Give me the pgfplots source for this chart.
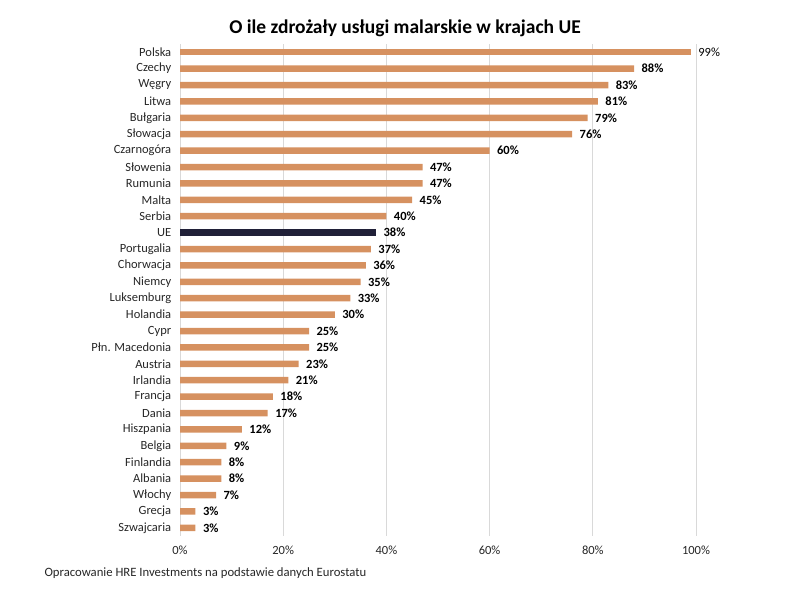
\documentclass[border=0pt]{standalone}
\usepackage{pgfplots}
\pgfplotsset{compat=1.18}
\usepackage{fontspec}
\setmainfont{Carlito}
\definecolor{barorange}{RGB}{214,145,96}
\definecolor{bardark}{RGB}{32,32,56}
\definecolor{gridgray}{RGB}{217,217,217}
\definecolor{txt}{RGB}{38,38,38}
\begin{document}
\begin{tikzpicture}[x=1pt,y=1pt]
\useasboundingbox (0,0) rectangle (800,598);
\begin{axis}[
    at={(180pt,62pt)}, anchor=south west,
    scale only axis,
    width=516pt, height=492pt,
    xbar, bar width=6.5pt, bar shift=0pt,
    xmin=0, xmax=100,
    ymin=-0.5, ymax=29.5,
    y dir=reverse,
    axis line style={draw=none},
    xmajorgrids, major grid style={gridgray, line width=0.8pt},
    xtick={0,20,40,60,80,100},
    xticklabels={0\%,20\%,40\%,60\%,80\%,100\%},
    ytick={0,...,29},
    yticklabels={Polska,Czechy,Węgry,Litwa,Bułgaria,Słowacja,Czarnogóra,Słowenia,Rumunia,Malta,Serbia,UE,Portugalia,Chorwacja,Niemcy,Luksemburg,Holandia,Cypr,Płn. Macedonia,Austria,Irlandia,Francja,Dania,Hiszpania,Belgia,Finlandia,Albania,Włochy,Grecja,Szwajcaria},
    tick style={draw=none},
    /pgf/number format/assume math mode=true,
    yticklabel style={font=\fontsize{12.5}{13}\selectfont, text=txt, xshift=-1pt},
    xticklabel style={font=\fontsize{12.5}{13}\selectfont, text=txt, yshift=-6pt},
    nodes near coords={\pgfmathprintnumber{\pgfplotspointmeta}\%},
    point meta=x,
    nodes near coords style={anchor=west, xshift=4pt, font=\bfseries\fontsize{12.5}{13}\selectfont, text=black},
    clip=false,
]
\addplot[fill=barorange, draw=none] coordinates {
    (88,1) (83,2) (81,3) (79,4) (76,5) (60,6) (47,7) (47,8) (45,9) (40,10)
    (37,12) (36,13) (35,14) (33,15) (30,16) (25,17) (25,18) (23,19) (21,20)
    (18,21) (17,22) (12,23) (9,24) (8,25) (8,26) (7,27) (3,28) (3,29)
};
\addplot[fill=barorange, draw=none, nodes near coords style={font=\fontsize{12.5}{13}\selectfont}] coordinates {(99,0)};
\addplot[fill=bardark, draw=none] coordinates {(38,11)};
\end{axis}
\node[font=\bfseries\fontsize{19.5}{22}\selectfont] at (405,570) {O ile zdrożały usługi malarskie w krajach UE};
\node[anchor=west, font=\fontsize{12.7}{13}\selectfont, text=txt] at (41,25) {Opracowanie HRE Investments na podstawie danych Eurostatu};
\end{tikzpicture}
\end{document}
